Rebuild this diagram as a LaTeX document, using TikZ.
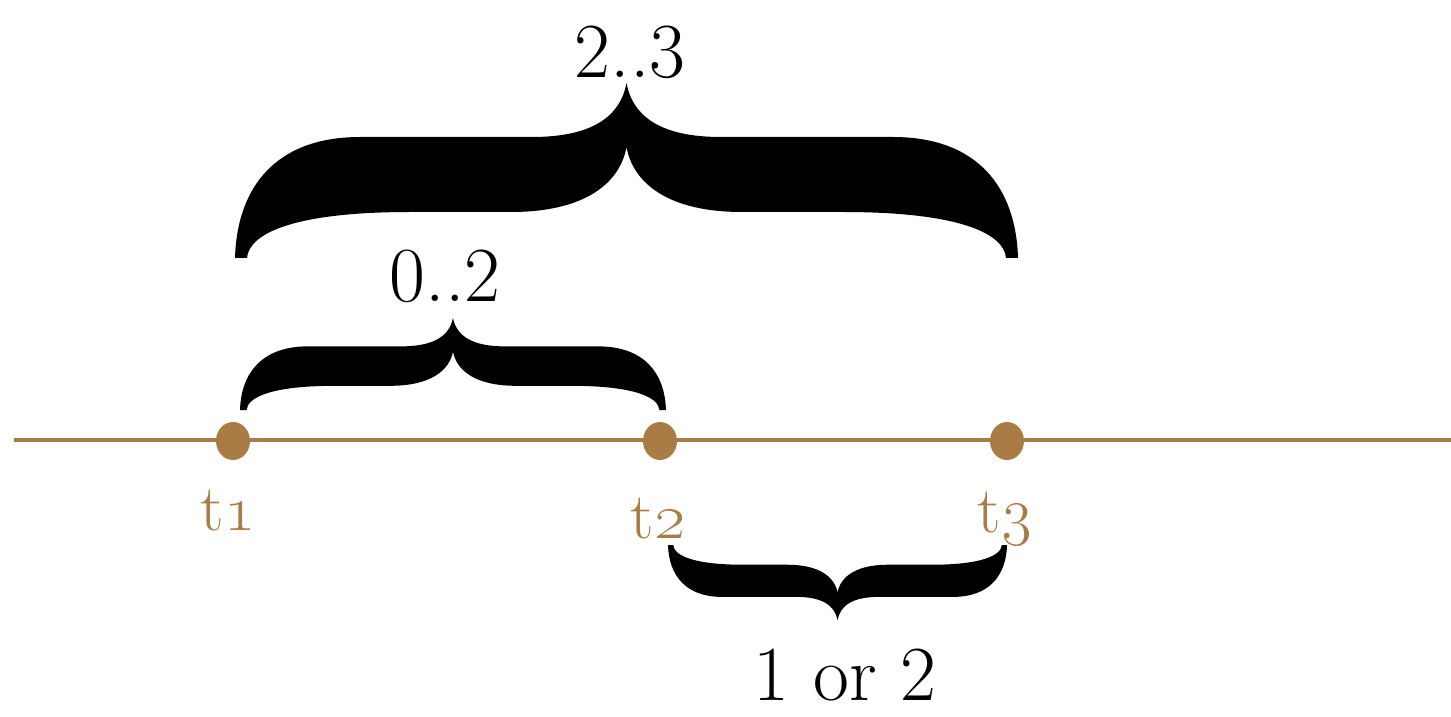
\RequirePackage{fix-cm}
\documentclass[tikz,border=0pt]{standalone}
\usetikzlibrary{shapes.geometric}
\definecolor{tbrown}{RGB}{169,123,69}
\tikzset{
  fbrace/.pic={
    \fill (0,0) .. controls (2,70) and (40,121) .. (125,121)
      -- (297,121)
      .. controls (355,121) and (385,140) .. (391.5,175)
      .. controls (398,140) and (428,121) .. (486,121)
      -- (658,121)
      .. controls (743,121) and (781,70) .. (783,0)
      -- (771,0)
      .. controls (769,25) and (723,46) .. (608,46)
      -- (507,46)
      .. controls (433,46) and (398,75) .. (391.5,111)
      .. controls (385,75) and (350,46) .. (276,46)
      -- (175,46)
      .. controls (60,46) and (14,25) .. (12,0)
      -- cycle;
  },
  tdot/.style={ellipse, fill=tbrown, minimum width=34pt, minimum height=38pt, inner sep=0pt},
  tlabel/.style={text=tbrown, anchor=base, inner sep=0pt, font=\fontsize{66}{70}\selectfont},
  blabel/.style={anchor=base, inner sep=0pt, font=\fontsize{78}{84}\selectfont},
  timeline/.style={draw=tbrown, line width=4pt}
}
\begin{document}
\begin{tikzpicture}[x=1pt,y=1pt]
\useasboundingbox (0,0) rectangle (1451,716);
\coordinate (lstart) at (14,276);
\coordinate (lend) at (1451,276);
\draw[timeline] (lstart) -- (lend);
\node[tdot] (d1) at (233,275) {};
\node[tdot] (d2) at (660,275) {};
\node[tdot] (d3) at (1007,275) {};
\node[tlabel] (t1) at (228,186) {t\oldstylenums{1}};
\node[tlabel] (t2) at (658,178) {t\oldstylenums{2}};
\node[tlabel] (t3) at (1005,184) {t\oldstylenums{3}};
% braces
\pic at (235,458) {fbrace};
\pic[xscale=0.544,yscale=0.526] at (240,306) {fbrace};
\pic[xscale=0.433,yscale=-0.429] at (668,171) {fbrace};
\node[blabel] (l23) at (630,638) {2..3};
\node[blabel] (l02) at (445,414) {0..2};
\node[blabel] (l12) at (845,16) {1 or 2};
\end{tikzpicture}
\end{document}
